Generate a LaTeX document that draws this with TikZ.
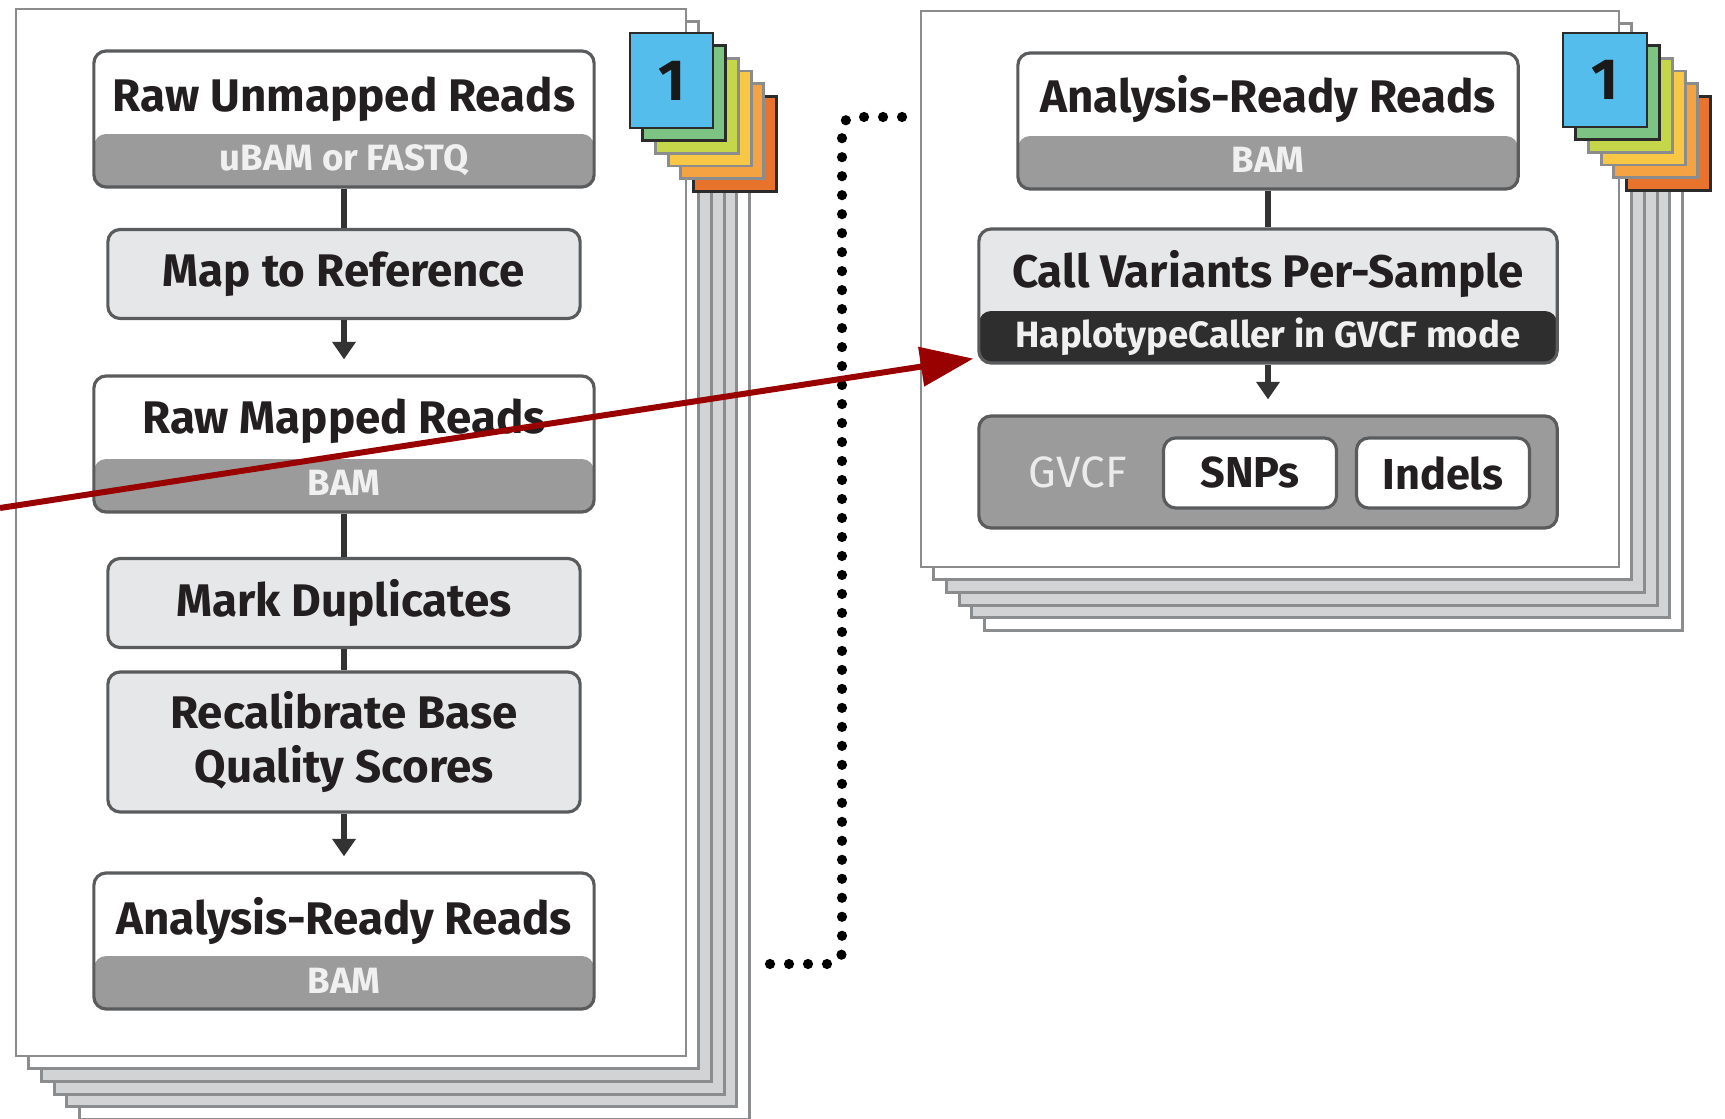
\documentclass[tikz,border=0pt]{standalone}
\usepackage{fontspec}
\setmainfont{Fira Sans}
\usetikzlibrary{arrows.meta,calc}

\definecolor{pageline}{HTML}{8A8C8E}
\definecolor{pagegray}{HTML}{D1D3D4}
\definecolor{boxline}{HTML}{5A5B5D}
\definecolor{stepfill}{HTML}{E6E7E8}
\definecolor{bandgray}{HTML}{9B9B9B}
\definecolor{banddark}{HTML}{2E2E2E}
\definecolor{textdark}{HTML}{231F20}
\definecolor{linkdark}{HTML}{333333}
\definecolor{tabblue}{HTML}{55BDEB}
\definecolor{tabgreen}{HTML}{7DC383}
\definecolor{tablime}{HTML}{C5D64A}
\definecolor{tabyellow}{HTML}{F8C746}
\definecolor{tabamber}{HTML}{F5A243}
\definecolor{taborange}{HTML}{E8732D}
\definecolor{tabdark}{HTML}{2B2B2B}
\definecolor{arrowred}{HTML}{990000}

\newcommand{\boxheadfont}{\fontsize{13}{15.2}\selectfont\bfseries}
\newcommand{\boxbandfont}{\fontsize{10.4}{12}\selectfont\bfseries}
\newcommand{\varfont}{\fontsize{12.3}{14}\selectfont\bfseries}
\newcommand{\tabnumfont}{\fontsize{16.5}{20}\selectfont\bfseries}

\tikzset{
  sheet/.style={draw=pageline, line width=0.8pt},
  tab/.style={line width=0.8pt},
  tabnum/.style={font=\tabnumfont, text=black!90, inner sep=0pt},
  readsbox/.style={rounded corners=3.5pt, draw=boxline, line width=0.9pt, fill=white,
    minimum width=5cm, minimum height=1.36cm, inner sep=0pt,
    path picture={\fill[bandgray] (path picture bounding box.south west) rectangle ([yshift=0.53cm]path picture bounding box.south east);}},
  callbox/.style={rounded corners=3.5pt, draw=boxline, line width=0.9pt, fill=stepfill,
    minimum width=5.78cm, minimum height=1.34cm, inner sep=0pt,
    path picture={\fill[banddark] (path picture bounding box.south west) rectangle ([yshift=0.52cm]path picture bounding box.south east);}},
  stepbox/.style={rounded corners=3.5pt, draw=boxline, line width=0.9pt, fill=stepfill,
    minimum width=4.72cm, minimum height=0.89cm, align=center, font=\boxheadfont, text=textdark},
  gvcfbox/.style={rounded corners=3.5pt, draw=boxline, line width=0.9pt, fill=bandgray,
    minimum width=5.78cm, minimum height=1.12cm},
  varbox/.style={rounded corners=3.5pt, draw=boxline, line width=0.9pt, fill=white,
    minimum width=1.73cm, minimum height=0.70cm, font=\varfont, text=textdark},
  headtext/.style={font=\boxheadfont, text=textdark, inner sep=0pt, anchor=base},
  bandtext/.style={font=\boxbandfont, text=white!94!black, inner sep=0pt, anchor=base},
  link/.style={draw=linkdark, line width=1.5pt},
  linkarrow/.style={link, -{Triangle[length=5pt,width=6.5pt]}, shorten >=0.15cm},
  dotpath/.style={line width=2.9pt, line cap=round, dash pattern=on 0pt off 5.4pt, rounded corners=0.12cm},
  callarrow/.style={draw=arrowred, line width=1.7pt, -{Triangle[length=15pt,width=11pt]}}
}

\begin{document}
\begin{tikzpicture}[x=0.01cm, y=-0.01cm]
\useasboundingbox (0,0) rectangle (1725,1119);

% left stack of samples
\begin{scope}[shift={(16,9)}]
\foreach \i/\shade in {5/white,4/pagegray,3/pagegray,2/pagegray,1/white,0/white}
  \draw[sheet, fill=\shade] (12.7*\i,12.7*\i) rectangle ++(670,1047);
\foreach \i/\tabcol/\tabedge in {5/taborange/tabdark,4/tabamber/pageline,3/tabyellow/pageline,2/tablime/pageline,1/tabgreen/tabdark,0/tabblue/tabdark}
  \draw[tab, fill=\tabcol, draw=\tabedge] (614+12.7*\i,24+12.7*\i) rectangle ++(83,95);
\node[tabnum] (lefttab) at (655.5,71.5) {1};
\end{scope}

% right stack of samples
\begin{scope}[shift={(921,11)}]
\foreach \i/\shade in {5/white,4/pagegray,3/pagegray,2/pagegray,1/white,0/white}
  \draw[sheet, fill=\shade] (12.7*\i,12.7*\i) rectangle ++(698,556);
\foreach \i/\tabcol/\tabedge in {5/taborange/tabdark,4/tabamber/pageline,3/tabyellow/pageline,2/tablime/pageline,1/tabgreen/tabdark,0/tabblue/tabdark}
  \draw[tab, fill=\tabcol, draw=\tabedge] (642+12.7*\i,22+12.7*\i) rectangle ++(84,94);
\node[tabnum] (righttab) at (684,69) {1};
\end{scope}

% left column
\node[readsbox] (unmapped) at (344,119) {};
\node[headtext] (unmapped-h) at (344,112) {Raw Unmapped Reads};
\node[bandtext] (unmapped-b) at (344,171) {uBAM or FASTQ};
\node[stepbox] (mapref) at (344,274) {Map to Reference};
\node[readsbox] (rawmapped) at (344,444) {};
\node[headtext] (rawmapped-h) at (344,434) {Raw Mapped Reads};
\node[bandtext] (rawmapped-b) at (344,496) {BAM};
\node[stepbox] (markdup) at (344,603) {Mark Duplicates};
\node[stepbox, minimum height=1.40cm] (recal) at (344,742) {Recalibrate Base\\Quality Scores};
\node[readsbox] (ready) at (344,941) {};
\node[headtext] (ready-h) at (344,934) {Analysis-Ready Reads};
\node[bandtext] (ready-b) at (344,993) {BAM};

\draw[link] (unmapped) -- (mapref);
\draw[linkarrow] (mapref) -- (rawmapped);
\draw[link] (rawmapped) -- (markdup);
\draw[link] (markdup) -- (recal);
\draw[linkarrow] (recal) -- (ready);

% right column
\node[readsbox] (readyR) at (1268,121) {};
\node[headtext] (readyR-h) at (1268,113) {Analysis-Ready Reads};
\node[bandtext] (readyR-b) at (1268,173) {BAM};
\node[callbox] (callvar) at (1268,296) {};
\node[headtext] (callvar-h) at (1268,288) {Call Variants Per-Sample};
\node[bandtext] (callvar-b) at (1268,348) {HaplotypeCaller in GVCF mode};
\node[gvcfbox] (gvcf) at (1268,472) {};
\node[font=\fontsize{12.5}{14}\selectfont, text=white!92!black] (gvcf-l) at (1078,472) {GVCF};
\node[varbox] (snps) at (1250,473) {SNPs};
\node[varbox] (indels) at (1443,473) {Indels};

\draw[link] (readyR) -- (callvar);
\draw[linkarrow] (callvar) -- (gvcf);

% dotted hand-over between the stacks
\coordinate (dotfrom) at (770,964);
\coordinate (dotbend) at (842,117);
\coordinate (dotto) at (904,117);
\draw[dotpath] (dotfrom) -| (dotbend) -- (dotto);

% red pointer
\coordinate (redfrom) at (0,508);
\draw[callarrow] (redfrom) -- ([xshift=-0.4mm,yshift=0.6mm]callvar.south west);
\end{tikzpicture}
\end{document}
